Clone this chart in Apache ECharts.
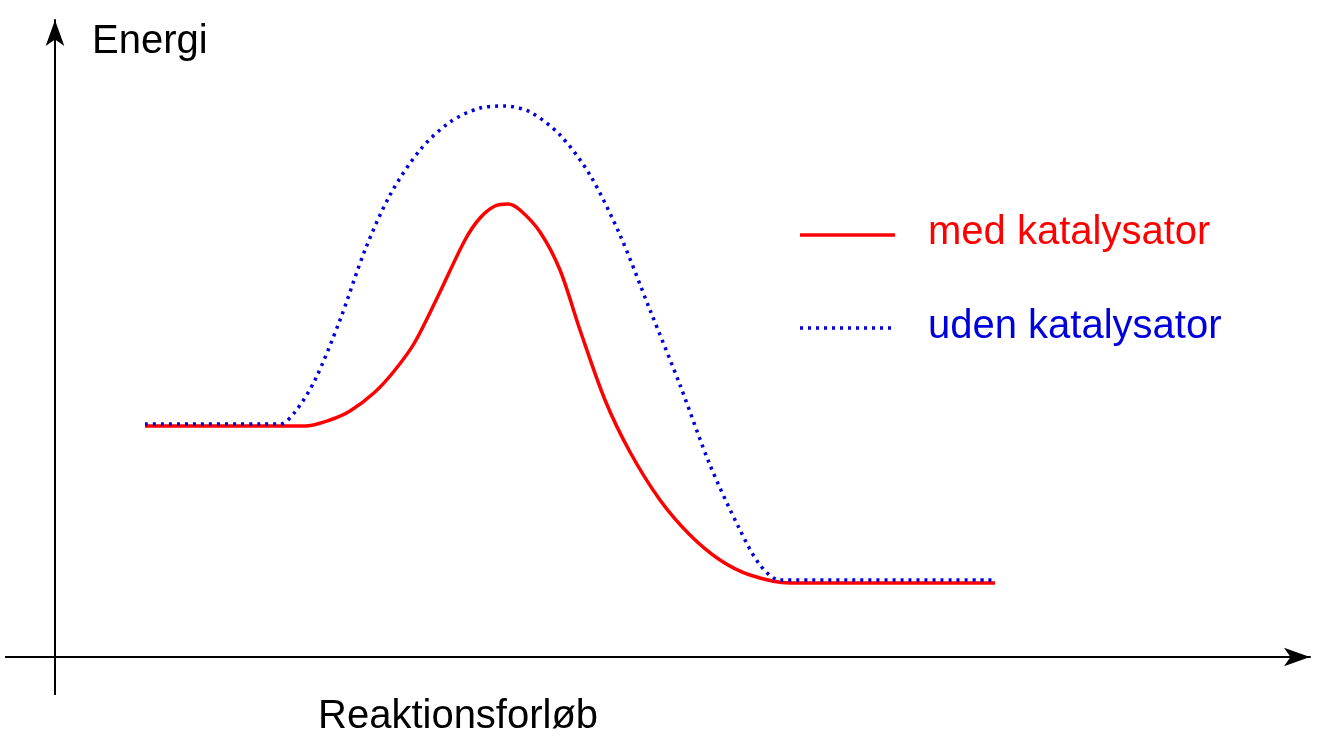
<!DOCTYPE html>
<html><head><meta charset="utf-8">
<script src="https://cdn.jsdelivr.net/npm/echarts@6/dist/echarts.min.js"></script>
<style>html,body{margin:0;padding:0;background:#fff}#c{width:1342px;height:748px}</style>
</head><body><div id="c"></div>
<script>
// reaction progress (x) and energy (y), arbitrary units
var redX = [90,250,275,295,320,340,360,385,410,425,440,453,465,485,505,525,550,575,605,635,665,695,735,940];
var redY = [231,231,237,246,265,287,315,365,417,439,451,453,447,425,387,327,257,205,157,122,97,82,74,74];
var blueX = [90,225,240,260,285,310,335,365,395,425,450,475,505,535,565,595,625,655,685,705,725,940];
var blueY = [233,233,245,277,337,407,462,507,535,549,551,545,522,482,422,347,272,192,127,92,77,77];
var names = ['med katalysator','uden katalysator'];
function pairs(xs, ys){return xs.map(function(x,i){return [x, ys[i]];});}
var chart = echarts.init(document.getElementById('c'));
var font = 'Liberation Sans, Arial, sans-serif';
chart.setOption({
  animation:false,
  grid:{left:55,top:20,width:1255,height:637},
  xAxis:{type:'value',min:0,max:1255,axisLine:{onZero:false,lineStyle:{color:'#000',width:2},symbol:['none','arrow'],symbolSize:[14,26]},axisTick:{show:false},axisLabel:{show:false},splitLine:{show:false}},
  yAxis:{type:'value',min:0,max:637,axisLine:{lineStyle:{color:'#000',width:2},symbol:['none','arrow'],symbolSize:[14,26]},axisTick:{show:false},axisLabel:{show:false},splitLine:{show:false}},
  graphic:[
    {type:'line',shape:{x1:5,y1:657,x2:55,y2:657},style:{stroke:'#000',lineWidth:2}},
    {type:'line',shape:{x1:55,y1:657,x2:55,y2:695},style:{stroke:'#000',lineWidth:2}},
    {type:'text',left:92,top:22,style:{text:'Energi',font:'40px '+font,fill:'#000'}},
    {type:'text',left:318,top:697,style:{text:'Reaktionsforløb',font:'40px '+font,fill:'#000'}},
    {type:'line',shape:{x1:800,y1:235,x2:895,y2:235},style:{stroke:'#ff0000',lineWidth:3.5}},
    {type:'line',shape:{x1:800,y1:328,x2:895,y2:328},style:{stroke:'#0000dd',lineWidth:3.5,lineDash:[3,5]}},
    {type:'text',left:928,top:213,style:{text:names[0],font:'40px '+font,fill:'#ff0000'}},
    {type:'text',left:928,top:307,style:{text:names[1],font:'40px '+font,fill:'#0000dd'}}
  ],
  series:[
    {name:names[0],type:'line',data:pairs(redX,redY),showSymbol:false,symbol:'none',smooth:0.3,lineStyle:{color:'#ff0000',width:3.5}},
    {name:names[1],type:'line',data:pairs(blueX,blueY),showSymbol:false,symbol:'none',smooth:0.3,lineStyle:{color:'#0000dd',width:3.5,type:[3,5]}}
  ]
});
</script></body></html>
